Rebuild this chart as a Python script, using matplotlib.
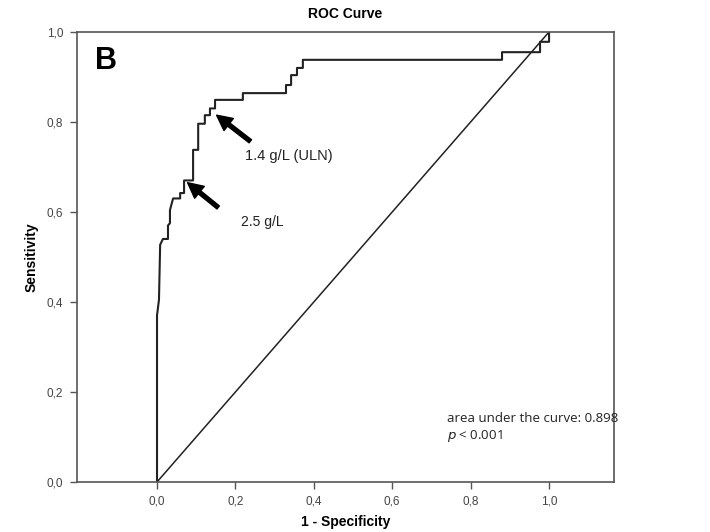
import numpy as np
import matplotlib
matplotlib.use("Agg")
import matplotlib.pyplot as plt

plt.rcParams['font.family'] = ['Liberation Sans', 'DejaVu Sans']

# ROC curve (1 - specificity, sensitivity)
fpr = [0.0, 0.0, 0.005, 0.008, 0.015, 0.028, 0.028, 0.033, 0.033, 0.041, 0.059, 0.059,
       0.069, 0.069, 0.092, 0.092, 0.105, 0.105, 0.122, 0.122, 0.135, 0.135, 0.148,
       0.148, 0.219, 0.219, 0.329, 0.329, 0.342, 0.342, 0.357, 0.357, 0.372, 0.372,
       0.88, 0.88, 0.977, 0.977, 1.0, 1.0]
tpr = [0.0, 0.37, 0.405, 0.527, 0.54, 0.54, 0.57, 0.575, 0.604, 0.63, 0.63, 0.642,
       0.642, 0.67, 0.67, 0.738, 0.738, 0.796, 0.796, 0.815, 0.815, 0.83, 0.83,
       0.849, 0.849, 0.864, 0.864, 0.882, 0.882, 0.904, 0.904, 0.92, 0.92, 0.938,
       0.938, 0.955, 0.955, 0.978, 0.978, 1.0]

ticks = [0.0, 0.2, 0.4, 0.6, 0.8, 1.0]
tick_labels = ['0,0', '0,2', '0,4', '0,6', '0,8', '1,0']

auc_text = 'area under the curve: 0.898'
p_text = r'$\it{p}$ < 0.001'

fig = plt.figure(figsize=(7.1, 5.32), dpi=100)
ax = fig.add_axes([0.1085, 0.094, 0.7565, 0.846])

ax.plot(fpr, tpr, color='#222222', lw=1.5)
ax.plot([0, 1], [0, 1], color='#222222', lw=1.1)

ax.set_xlim(-0.204, 1.166)
ax.set_ylim(0, 1)
ax.set_xticks(ticks)
ax.set_xticklabels(tick_labels)
ax.set_yticks(ticks)
ax.set_yticklabels(tick_labels)
ax.tick_params(direction='out', length=5, width=1, colors='#555555',
               labelsize=8.5, labelcolor='#444444', pad=5)
for s in ax.spines.values():
    s.set_color('#555555')
    s.set_linewidth(1.2)

ax.set_title('ROC Curve', fontsize=10, fontweight='bold', pad=10)
ax.set_xlabel('1 - Specificity', fontsize=10, fontweight='bold', labelpad=5)
ax.set_ylabel('Sensitivity', fontsize=10, fontweight='bold', labelpad=6)

ax.text(0.033, 0.968, 'B', transform=ax.transAxes, fontsize=22,
        fontweight='bold', va='top', ha='left')

arrow = dict(facecolor='black', edgecolor='black', width=2.8,
             headwidth=11, headlength=11)
ax.annotate('', xy=(0.152, 0.815), xytext=(0.238, 0.757), arrowprops=arrow)
ax.annotate('', xy=(0.078, 0.665), xytext=(0.156, 0.61), arrowprops=arrow)
ax.text(0.225, 0.725, '1.4 g/L (ULN)', fontsize=10.5, color='#222222',
        va='center', ha='left')
ax.text(0.213, 0.578, '2.5 g/L', fontsize=10, color='#222222',
        va='center', ha='left')

ax.text(0.74, 0.14, auc_text, fontsize=9.5, color='#222222', va='center',
        family=['Open Sans', 'DejaVu Sans'])
ax.text(0.74, 0.102, p_text, fontsize=9.5, color='#222222', va='center',
        family=['Open Sans', 'DejaVu Sans'])

plt.savefig('out.png', dpi=100)
